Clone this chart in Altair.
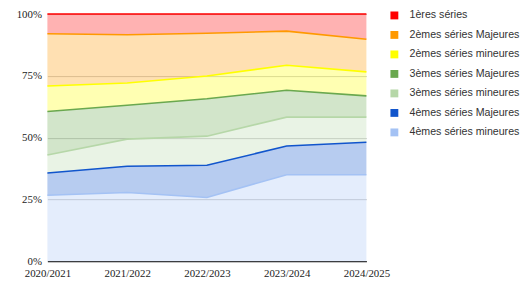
import altair as alt
import pandas as pd

years = ["2020/2021", "2021/2022", "2022/2023", "2023/2024", "2024/2025"]
series = ["1ères séries", "2èmes séries Majeures", "2èmes séries mineures",
          "3èmes séries Majeures", "3èmes séries mineures",
          "4èmes séries Majeures", "4èmes séries mineures"]
colors = ["#ff0000", "#ff9900", "#ffff00", "#6aa84f", "#b6d7a8", "#1155cc", "#a4c2f4"]

s1 = [8.0, 8.4, 7.8, 6.9, 10.2]
s2M = [21.1, 19.5, 17.3, 13.8, 13.2]
s2m = [10.3, 9.0, 9.2, 10.1, 9.7]
s3M = [17.6, 13.7, 15.1, 10.9, 8.6]
s3m = [7.3, 11.0, 11.8, 11.7, 10.2]
s4M = [9.0, 10.6, 13.0, 11.6, 13.1]
s4m = [26.7, 27.8, 25.8, 35.0, 35.0]

vals = [s1, s2M, s2m, s3M, s3m, s4M, s4m]
rows = []
for r, (name, vs) in enumerate(zip(series, vals)):
    for y, v in zip(years, vs):
        rows.append({"year": y, "serie": name, "rank": r, "value": v})
df = pd.DataFrame(rows)

x = alt.X("year:O", scale=alt.Scale(type="point", padding=0), sort=years,
          axis=alt.Axis(title=None, labelAngle=0, ticks=False, domain=True,
                        domainColor="#333333", domainWidth=1.2, grid=False,
                        labelFont="Liberation Serif", labelFontSize=11,
                        labelColor="#222222", labelPadding=7))
color = alt.Color("serie:N", scale=alt.Scale(domain=series, range=colors),
                  legend=alt.Legend(title=None, orient="none", legendX=347, legendY=-4,
                                    symbolType="square", symbolSize=64,
                                    symbolOpacity=1, symbolStrokeWidth=0,
                                    labelFont="Liberation Sans", labelFontSize=10.8,
                                    labelColor="#333333", rowPadding=7.8,
                                    labelOffset=10))

base = alt.Chart(df).transform_stack(
    stack="value", as_=["y0", "y1"], groupby=["year"],
    sort=[alt.SortField("rank", order="descending")]
)

yaxis = alt.Axis(title=None, values=[0, 25, 50, 75, 100], labelExpr="datum.value + '%'",
                 ticks=False, domain=False, grid=True, gridColor="#cccccc",
                 labelFont="Liberation Serif", labelFontSize=11, labelColor="#222222",
                 labelPadding=6)

area = base.mark_area(fillOpacity=0.3, strokeWidth=0).encode(
    x=x,
    y=alt.Y("y1:Q", scale=alt.Scale(domain=[0, 100]), axis=yaxis),
    y2="y0:Q",
    color=color,
)
line = base.mark_line(strokeWidth=1.6).encode(
    x=x,
    y=alt.Y("y1:Q"),
    color=color,
    detail="serie:N",
)

chart = alt.layer(area, line).properties(
    width=324, height=251,
    autosize=alt.AutoSizeParams(type="none"),
    padding={"left": 40, "top": 4, "right": 157, "bottom": 21},
).configure_view(stroke=None)

chart.save("out.html", embed_options={"renderer": "svg", "actions": False})
